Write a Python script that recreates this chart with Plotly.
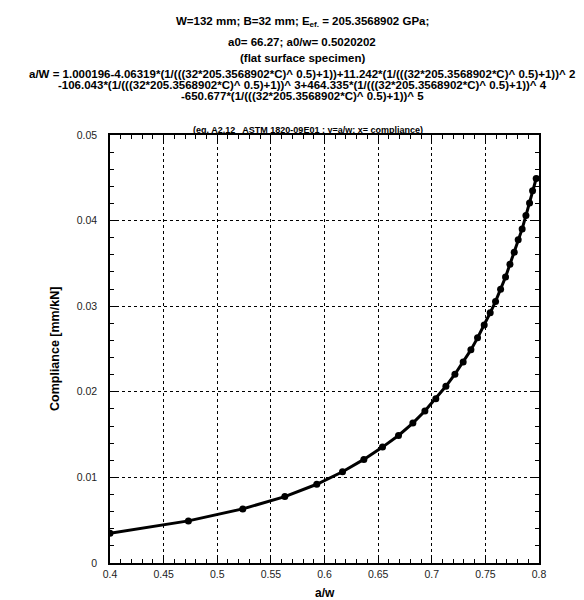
import plotly.graph_objects as go

# ---- data ----
a_over_w = [0.4000, 0.4731, 0.5238, 0.5630, 0.5928, 0.6168, 0.6367, 0.6541, 0.6690,
            0.6824, 0.6936, 0.7038, 0.7132, 0.7216, 0.7293, 0.7365, 0.7427, 0.7489,
            0.7545, 0.7595, 0.7642, 0.7688, 0.7729, 0.7769, 0.7806, 0.7843, 0.7878,
            0.7912, 0.7940, 0.7974]
compliance = [0.00347, 0.00492, 0.00632, 0.00776, 0.00920, 0.01066, 0.01210, 0.01354,
              0.01490, 0.01635, 0.01775, 0.01920, 0.02064, 0.02205, 0.02349, 0.02490,
              0.02630, 0.02779, 0.02923, 0.03056, 0.03197, 0.03341, 0.03489, 0.03630,
              0.03777, 0.03903, 0.04059, 0.04207, 0.04348, 0.04492]

x_tickvals = [0.4, 0.45, 0.5, 0.55, 0.6, 0.65, 0.7, 0.75, 0.8]
x_ticktext = ["0.4", "0.45", "0.5", "0.55", "0.6", "0.65", "0.7", "0.75", "0.8"]
y_tickvals = [0, 0.01, 0.02, 0.03, 0.04, 0.05]
y_ticktext = ["0", "0.01", "0.02", "0.03", "0.04", "0.05"]

title_lines = [
    "W=132 mm; B=32 mm; E<sub>ef.</sub> = 205.3568902 GPa;",
    "a0= 66.27; a0/w= 0.5020202",
    "(flat surface specimen)",
    "a/W = 1.000196-4.06319*(1/(((32*205.3568902*C)^ 0.5)+1))+11.242*(1/(((32*205.3568902*C)^ 0.5)+1))^ 2",
    "-106.043*(1/(((32*205.3568902*C)^ 0.5)+1))^ 3+464.335*(1/(((32*205.3568902*C)^ 0.5)+1))^ 4",
    "-650.677*(1/(((32*205.3568902*C)^ 0.5)+1))^ 5",
]
subtitle = "(eq. A2.12   ASTM 1820-09E01 ; y=a/w; x= compliance)"
x_title = "a/w"
y_title = "Compliance [mm/kN]"

# ---- layout geometry ----
W, H = 584, 600
L, R, T, B = 102, 53, 127, 45
pw, ph = W - L - R, H - T - B
FONT = "Liberation Sans, Arial, Helvetica, sans-serif"


def px(xp):
    return (xp - L) / pw


def py(yp):
    return (H - B - yp) / ph


fig = go.Figure()
fig.add_trace(go.Scatter(
    x=a_over_w, y=compliance, mode="lines+markers",
    line=dict(color="black", width=3),
    marker=dict(color="black", size=7, symbol="circle"),
    showlegend=False,
))

axis_common = dict(
    showline=True, linecolor="black", linewidth=1.5, mirror="ticks",
    ticks="inside", ticklen=7, tickcolor="black", tickwidth=1,
    showgrid=True, gridcolor="black", gridwidth=1, griddash="dot",
    zeroline=False,
    tickfont=dict(family=FONT, size=10.5, color="#222"),
)

fig.update_xaxes(
    range=[0.4, 0.8], tickvals=x_tickvals, ticktext=x_ticktext,
    minor=dict(dtick=0.01, tick0=0.4, ticks="inside", ticklen=4, tickcolor="black", showgrid=False),
    ticklabelstandoff=1,
    **axis_common,
)
fig.update_yaxes(
    range=[0, 0.05], tickvals=y_tickvals, ticktext=y_ticktext,
    minor=dict(dtick=0.002, tick0=0, ticks="inside", ticklen=4, tickcolor="black", showgrid=False),
    ticklabelstandoff=9,
    **axis_common,
)

title_y = [14.3, 34.3, 50, 65.7, 77.3, 88]
annotations = []
for txt, yy in zip(title_lines, title_y):
    annotations.append(dict(
        text="<b>%s</b>" % txt, x=px(294), y=py(yy), xref="paper", yref="paper",
        xanchor="center", yanchor="middle", showarrow=False,
        font=dict(family=FONT, size=11.5, color="black"),
    ))
annotations.append(dict(
    text="<b>%s</b>" % subtitle, x=px(300), y=py(122.3), xref="paper", yref="paper",
    xanchor="center", yanchor="middle", showarrow=False,
    font=dict(family=FONT, size=9, color="black"),
))
annotations.append(dict(
    text="<b>%s</b>" % x_title, x=px(317), y=py(585), xref="paper", yref="paper",
    xanchor="center", yanchor="middle", showarrow=False,
    font=dict(family=FONT, size=12, color="black"),
))
annotations.append(dict(
    text="<b>%s</b>" % y_title, x=px(47), y=py(341), xref="paper", yref="paper",
    xanchor="center", yanchor="middle", showarrow=False, textangle=-90,
    font=dict(family=FONT, size=12.5, color="black"),
))

fig.update_layout(
    width=W, height=H, autosize=False,
    margin=dict(l=L, r=R, t=T, b=B, pad=0),
    paper_bgcolor="white", plot_bgcolor="white",
    font=dict(family=FONT, color="black"),
    annotations=annotations,
)

fig.write_html("out.html")
